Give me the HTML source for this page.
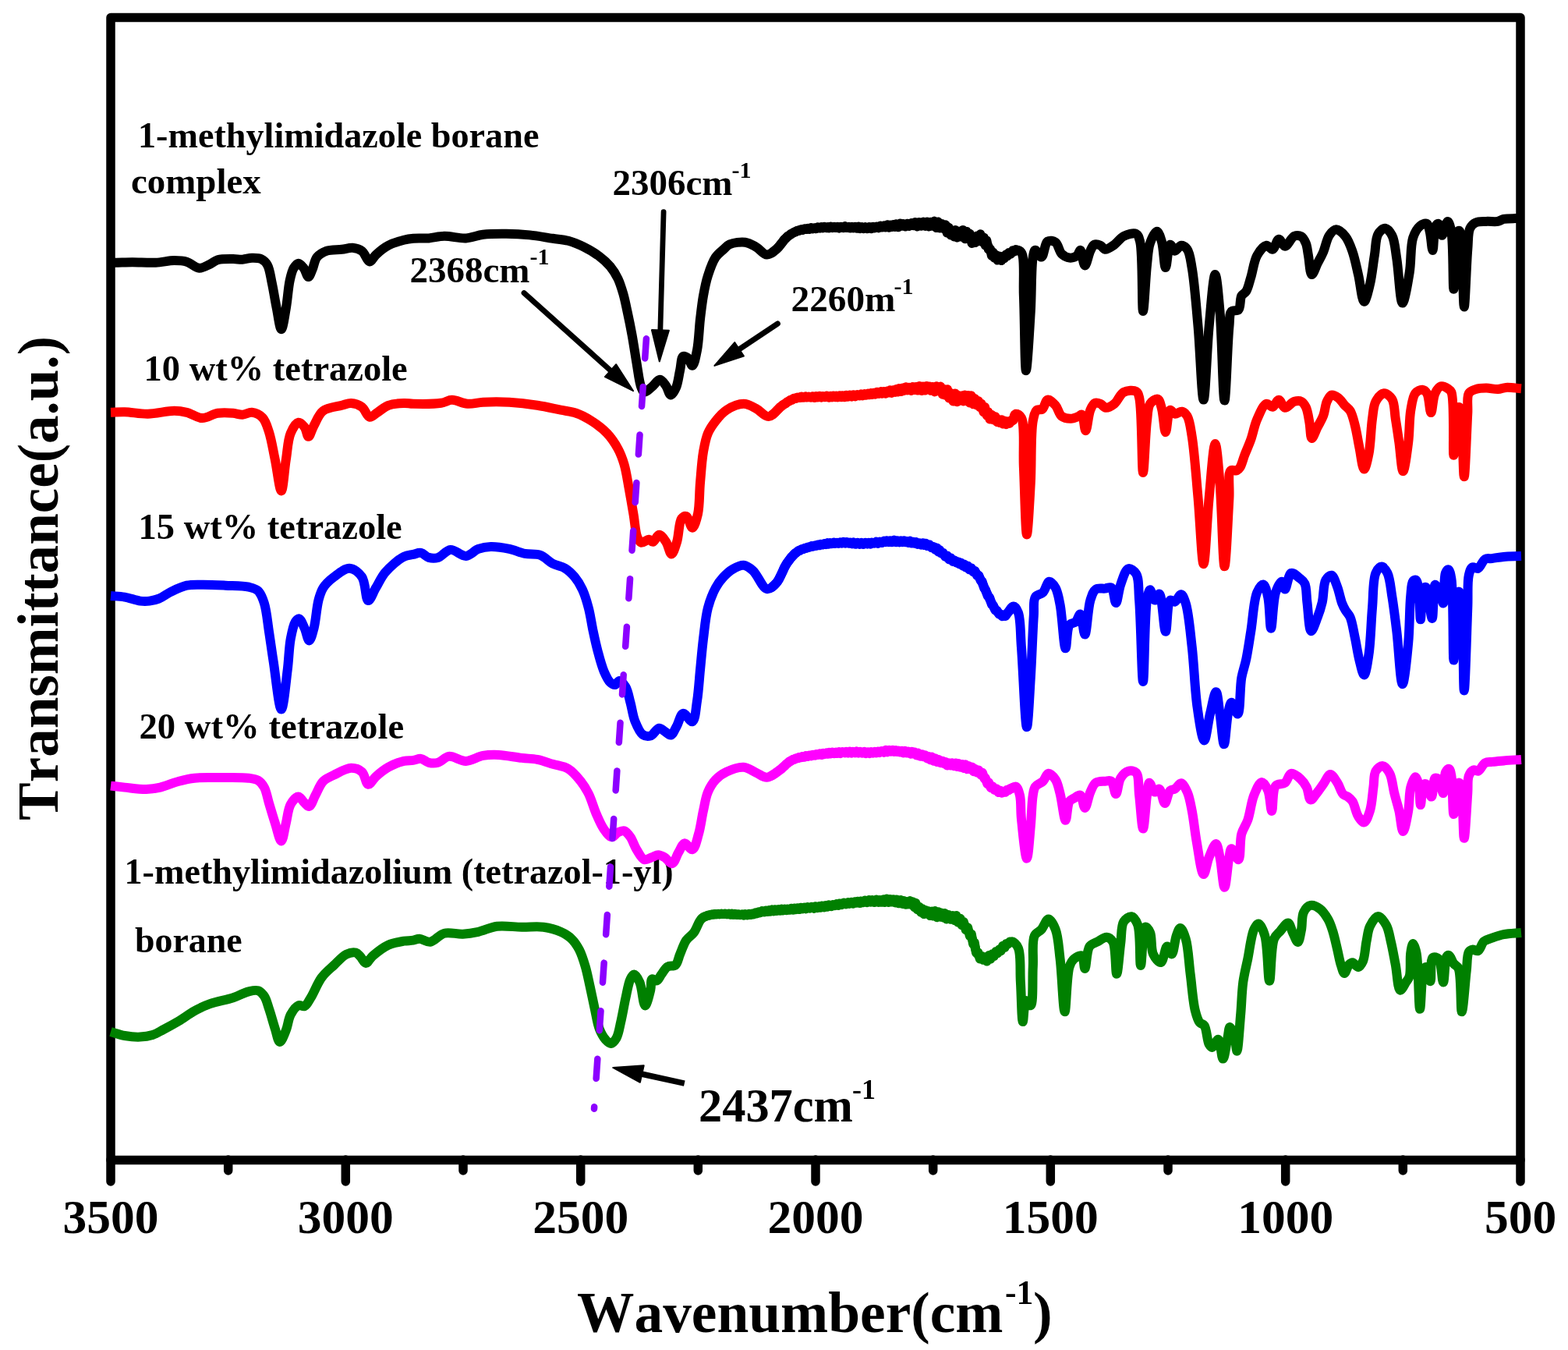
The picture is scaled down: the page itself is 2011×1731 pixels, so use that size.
<!DOCTYPE html>
<html><head><meta charset="utf-8"><title>FTIR spectra</title>
<style>
html,body{margin:0;padding:0;background:#fff;}
svg{display:block;}
text{font-family:'Liberation Serif', 'Times New Roman', serif;font-weight:bold;fill:#000;font-kerning:none;font-feature-settings:'kern' 0;}
</style></head>
<body>
<svg width="2011" height="1731" viewBox="0 0 2011 1731">
<rect x="0" y="0" width="2011" height="1731" fill="#fff"/>
<rect x="142" y="22.5" width="1808" height="1465" fill="none" stroke="#000" stroke-width="11.5" stroke-linejoin="round"/>
<line x1="142.0" y1="1487" x2="142.0" y2="1515" stroke="#000" stroke-width="11.5" stroke-linecap="round"/>
<line x1="292.7" y1="1487" x2="292.7" y2="1501" stroke="#000" stroke-width="11.5" stroke-linecap="round"/>
<line x1="443.3" y1="1487" x2="443.3" y2="1515" stroke="#000" stroke-width="11.5" stroke-linecap="round"/>
<line x1="594.0" y1="1487" x2="594.0" y2="1501" stroke="#000" stroke-width="11.5" stroke-linecap="round"/>
<line x1="744.7" y1="1487" x2="744.7" y2="1515" stroke="#000" stroke-width="11.5" stroke-linecap="round"/>
<line x1="895.3" y1="1487" x2="895.3" y2="1501" stroke="#000" stroke-width="11.5" stroke-linecap="round"/>
<line x1="1046.0" y1="1487" x2="1046.0" y2="1515" stroke="#000" stroke-width="11.5" stroke-linecap="round"/>
<line x1="1196.7" y1="1487" x2="1196.7" y2="1501" stroke="#000" stroke-width="11.5" stroke-linecap="round"/>
<line x1="1347.3" y1="1487" x2="1347.3" y2="1515" stroke="#000" stroke-width="11.5" stroke-linecap="round"/>
<line x1="1498.0" y1="1487" x2="1498.0" y2="1501" stroke="#000" stroke-width="11.5" stroke-linecap="round"/>
<line x1="1648.7" y1="1487" x2="1648.7" y2="1515" stroke="#000" stroke-width="11.5" stroke-linecap="round"/>
<line x1="1799.3" y1="1487" x2="1799.3" y2="1501" stroke="#000" stroke-width="11.5" stroke-linecap="round"/>
<line x1="1950.0" y1="1487" x2="1950.0" y2="1515" stroke="#000" stroke-width="11.5" stroke-linecap="round"/>
<text x="142.0" y="1581" font-size="61.5" text-anchor="middle">3500</text>
<text x="443.3" y="1581" font-size="61.5" text-anchor="middle">3000</text>
<text x="744.7" y="1581" font-size="61.5" text-anchor="middle">2500</text>
<text x="1046.0" y="1581" font-size="61.5" text-anchor="middle">2000</text>
<text x="1347.3" y="1581" font-size="61.5" text-anchor="middle">1500</text>
<text x="1648.7" y="1581" font-size="61.5" text-anchor="middle">1000</text>
<text x="1950.0" y="1581" font-size="61.5" text-anchor="middle">500</text>
<text x="177" y="189" font-size="46.2">1-methylimidazole borane</text>
<text x="168" y="248.4" font-size="46.9">complex</text>
<text x="184.5" y="487.7" font-size="46.5">10 wt% tetrazole</text>
<text x="177.5" y="691.2" font-size="46.5">15 wt% tetrazole</text>
<text x="178.5" y="947" font-size="46.7">20 wt% tetrazole</text>
<text x="159.5" y="1133" font-size="46.2">1-methylimidazolium (tetrazol-1-yl)</text>
<text x="173" y="1221.4" font-size="45.9">borane</text>
<path d="M142.0,336.7 C144.0,336.7 145.4,336.7 148.0,336.7 C153.0,336.7 162.0,336.3 169.8,336.3 C179.0,336.3 190.3,337.1 199.7,336.7 C208.1,336.3 216.4,334.1 223.5,334.1 C229.4,334.1 234.3,334.2 239.5,335.7 C245.0,337.3 250.2,343.4 255.4,343.7 C260.1,344.0 265.1,340.6 269.3,338.7 C272.9,337.1 275.2,334.5 279.2,333.3 C284.6,331.8 293.3,332.1 299.1,332.1 C303.6,332.1 307.0,332.9 311.0,332.7 C315.0,332.5 319.0,330.8 323.0,330.7 C327.0,330.6 331.6,330.5 335.0,332.1 C338.2,333.6 340.8,336.1 342.9,339.7 C346.1,345.2 347.0,355.0 348.9,363.5 C351.0,373.3 352.7,385.2 354.8,395.4 C356.7,404.7 358.8,422.2 360.8,422.2 C362.8,422.2 365.1,405.0 366.8,395.4 C368.8,384.4 369.6,369.1 371.7,359.6 C373.1,353.2 374.4,347.5 376.7,343.7 C378.4,341.0 380.6,337.8 382.7,337.7 C384.9,337.6 387.6,341.2 389.6,343.7 C392.0,346.7 393.7,355.1 395.6,355.1 C397.3,355.1 399.0,349.2 400.6,345.6 C402.6,341.0 403.3,333.7 406.5,329.7 C409.5,326.0 413.8,323.5 418.5,321.8 C424.1,319.8 432.4,320.5 438.4,319.8 C443.5,319.2 447.9,317.4 452.3,317.8 C456.5,318.2 460.7,319.3 464.2,321.8 C468.2,324.7 471.0,335.2 474.2,335.4 C476.9,335.5 478.8,329.7 482.1,326.7 C486.3,322.8 492.1,317.9 498.0,314.8 C504.0,311.6 512.0,309.3 517.9,307.8 C522.4,306.7 525.5,306.2 530.0,305.8 C535.8,305.3 543.3,305.9 549.9,305.4 C556.5,304.9 562.6,302.9 569.8,302.8 C578.3,302.6 588.9,305.9 597.6,305.4 C605.4,305.0 611.6,301.8 619.5,300.8 C628.6,299.7 639.4,299.7 649.3,299.8 C659.3,299.9 669.3,300.4 679.2,301.4 C689.2,302.4 700.1,304.5 709.0,305.8 C716.3,306.9 722.4,307.0 728.9,308.8 C735.6,310.6 742.3,313.5 748.8,316.7 C755.6,320.1 762.9,324.3 768.7,328.7 C774.0,332.7 778.6,336.8 782.6,341.6 C786.6,346.4 789.8,351.7 792.6,357.5 C795.5,363.6 797.5,370.6 799.5,377.4 C801.5,384.5 802.8,391.4 804.5,399.3 C806.5,408.5 808.6,418.7 810.5,429.1 C812.6,440.5 814.4,453.3 816.4,464.9 C818.3,475.9 819.8,490.5 822.4,496.8 C823.6,499.7 824.5,502.4 826.4,502.7 C828.8,503.1 833.1,498.4 836.3,495.8 C839.7,493.1 843.2,486.7 846.3,486.8 C849.1,486.9 851.9,491.7 854.2,494.8 C856.6,498.2 858.0,506.2 860.2,506.4 C862.3,506.6 865.3,500.9 867.1,496.8 C869.6,491.2 870.5,481.8 872.1,474.9 C873.5,468.6 873.5,458.5 876.1,457.0 C877.6,456.1 880.3,457.6 882.1,459.0 C884.5,460.9 886.2,469.0 888.0,468.8 C890.4,468.5 892.4,456.8 894.0,449.0 C896.2,438.1 896.6,421.5 898.0,409.2 C899.3,398.5 900.3,388.9 902.0,379.4 C903.6,370.4 905.2,361.8 907.9,353.5 C910.5,345.3 913.9,335.7 917.9,329.7 C920.9,325.3 924.8,322.6 928.0,319.7 C930.7,317.3 932.4,314.8 935.9,313.3 C940.8,311.2 949.9,309.9 955.8,310.7 C961.0,311.4 965.2,314.2 969.7,316.7 C974.5,319.4 979.1,326.4 983.6,326.6 C987.7,326.8 991.7,322.9 995.6,319.7 C1000.4,315.8 1004.5,307.9 1009.5,303.8 C1013.9,300.2 1017.8,297.7 1023.4,295.8 C1030.5,293.4 1040.3,292.9 1049.3,292.2 C1058.9,291.4 1068.4,291.5 1079.1,291.4 C1091.4,291.3 1107.9,292.3 1118.9,291.8 C1126.7,291.4 1131.3,290.4 1138.8,289.8 C1148.6,289.0 1161.2,287.8 1172.6,287.8 C1184.4,287.8 1199.6,286.7 1208.4,289.8 C1214.5,292.0 1217.2,298.0 1222.3,299.8 C1227.2,301.6 1233.8,299.2 1238.3,300.8 C1242.2,302.2 1244.8,307.3 1248.2,307.7 C1251.4,308.1 1255.2,303.0 1258.1,303.8 C1261.3,304.6 1263.6,310.0 1266.1,313.7 C1268.9,317.8 1270.7,324.6 1274.1,327.6 C1276.9,330.0 1280.8,331.9 1284.0,331.6 C1287.4,331.3 1290.7,327.5 1294.0,325.6 C1297.0,323.9 1300.1,320.9 1302.9,320.8 C1305.3,320.7 1308.1,321.2 1309.9,323.7 C1314.8,330.6 1312.0,358.3 1312.9,379.3 C1314.1,406.9 1314.3,475.2 1315.9,475.2 C1317.4,475.2 1320.3,424.0 1321.8,399.2 C1323.2,375.5 1322.5,341.7 1324.8,329.6 C1325.6,325.1 1326.2,321.0 1327.8,320.7 C1329.6,320.3 1333.3,330.0 1335.7,329.6 C1338.9,329.0 1339.7,311.9 1343.7,309.5 C1346.4,307.9 1350.9,308.8 1353.7,310.7 C1357.3,313.2 1358.2,322.2 1361.6,325.6 C1364.4,328.3 1368.2,330.3 1371.6,330.6 C1374.9,330.9 1379.1,329.5 1381.5,327.6 C1383.6,326.0 1384.2,320.5 1385.5,320.7 C1387.6,320.9 1389.2,340.4 1391.4,340.5 C1393.5,340.6 1396.0,326.6 1398.4,321.7 C1400.0,318.4 1401.1,314.8 1403.4,313.7 C1405.5,312.7 1409.0,313.7 1411.3,314.7 C1413.6,315.7 1414.9,319.4 1417.3,319.7 C1420.5,320.1 1425.4,316.3 1429.2,313.7 C1433.4,310.8 1436.5,305.1 1441.2,302.8 C1445.8,300.5 1453.6,298.1 1457.1,299.8 C1460.0,301.2 1460.7,304.5 1462.1,309.7 C1465.9,324.4 1464.3,399.0 1466.0,399.0 C1467.4,399.0 1469.2,355.7 1471.0,339.6 C1472.3,328.5 1472.3,319.3 1475.0,311.7 C1477.1,305.7 1481.3,296.7 1483.9,296.8 C1486.2,296.9 1488.3,304.2 1489.9,309.7 C1492.4,318.1 1493.0,343.1 1494.9,343.1 C1496.7,343.1 1497.9,314.4 1500.8,313.7 C1502.5,313.3 1504.5,321.5 1506.8,321.7 C1509.2,321.9 1512.1,314.9 1514.8,314.7 C1517.4,314.5 1520.6,316.8 1522.7,319.7 C1526.1,324.4 1526.9,333.3 1528.7,343.5 C1531.9,361.5 1534.2,392.5 1536.6,419.1 C1539.2,448.6 1541.3,512.6 1543.6,512.6 C1545.9,512.6 1547.9,447.7 1550.6,419.1 C1552.9,394.9 1556.0,352.0 1558.5,352.0 C1560.6,352.0 1562.8,380.0 1564.5,399.2 C1567.2,429.0 1568.4,513.6 1570.5,513.6 C1572.4,513.6 1574.3,438.9 1576.4,419.1 C1577.4,410.0 1576.4,402.5 1579.4,399.2 C1581.5,397.0 1586.3,399.3 1588.4,397.2 C1591.4,394.2 1590.0,383.4 1592.3,379.3 C1593.8,376.5 1596.6,376.2 1598.3,373.4 C1600.9,369.2 1602.2,362.2 1604.3,355.5 C1606.8,347.3 1608.2,334.8 1612.2,327.6 C1615.3,322.0 1620.4,315.2 1624.2,314.7 C1627.0,314.3 1629.7,320.3 1632.1,319.7 C1635.2,319.0 1637.3,306.9 1640.1,306.7 C1642.6,306.5 1645.1,315.7 1648.0,315.7 C1651.6,315.8 1655.9,304.5 1660.0,302.8 C1662.9,301.6 1666.6,301.9 1669.0,303.3 C1671.6,304.8 1673.4,308.7 1674.9,312.2 C1676.6,316.4 1676.8,321.5 1677.9,327.1 C1679.3,334.4 1680.0,351.7 1682.4,352.1 C1684.3,352.4 1687.3,342.5 1689.8,337.6 C1692.3,332.7 1695.0,328.2 1697.3,322.7 C1700.0,316.4 1701.4,306.7 1704.8,301.8 C1707.3,298.2 1710.5,294.4 1713.7,294.3 C1717.3,294.2 1722.3,299.2 1725.6,303.3 C1729.6,308.2 1732.0,315.4 1734.6,322.7 C1737.7,331.4 1739.7,342.2 1742.1,352.5 C1744.7,363.5 1746.7,386.6 1749.5,386.8 C1751.8,386.9 1754.9,372.9 1757.0,364.4 C1759.6,353.6 1761.0,338.5 1762.9,327.1 C1764.5,317.4 1764.0,306.1 1767.4,300.3 C1769.6,296.5 1773.5,292.7 1776.4,292.8 C1779.4,292.9 1783.0,297.5 1785.3,301.8 C1788.9,308.5 1789.4,320.0 1791.3,331.6 C1793.9,347.5 1795.6,388.5 1798.7,388.6 C1801.3,388.7 1805.5,363.0 1807.7,349.5 C1810.1,335.2 1808.7,315.5 1812.2,304.8 C1814.4,298.2 1817.5,292.7 1821.1,289.8 C1823.8,287.7 1828.0,285.9 1830.1,286.9 C1832.4,288.0 1832.7,293.1 1833.8,297.3 C1835.4,303.6 1836.3,321.1 1837.5,321.1 C1838.8,321.1 1838.6,294.5 1841.3,289.8 C1842.3,288.0 1843.9,286.6 1845.0,286.9 C1847.0,287.5 1847.9,301.8 1849.5,301.8 C1850.9,301.8 1852.5,293.1 1853.9,289.8 C1854.9,287.5 1855.9,283.8 1856.9,283.9 C1858.4,284.0 1860.2,290.9 1861.4,297.3 C1864.1,311.9 1863.2,370.8 1864.4,370.8 C1865.7,370.8 1864.8,303.4 1868.9,297.3 C1869.8,296.0 1871.0,295.5 1871.8,295.9 C1874.0,297.1 1874.0,309.6 1874.8,319.7 C1876.3,337.5 1876.6,393.5 1877.8,393.5 C1879.1,393.5 1880.7,338.2 1882.3,319.7 C1883.3,308.5 1882.5,298.7 1885.3,292.8 C1887.1,289.1 1889.5,286.9 1892.7,285.4 C1896.3,283.7 1901.6,284.2 1906.2,283.9 C1911.0,283.6 1917.1,284.7 1921.1,283.9 C1924.1,283.3 1925.5,281.6 1928.5,280.9 C1932.6,280.0 1939.4,280.2 1943.5,280.1 C1946.4,280.0 1948.5,280.1 1951.0,280.1" fill="none" stroke="#000000" stroke-width="12.0" stroke-linejoin="round" stroke-linecap="butt"/>
<path d="M990.0,324.2 L992.3,322.4 L994.4,320.7 L996.7,318.6 L998.9,316.4 L1001.5,313.0 L1003.5,310.6 L1006.0,307.1 L1007.7,305.8 L1010.4,302.8 L1012.8,301.5 L1014.4,299.9 L1016.1,299.4 L1018.0,297.9 L1020.1,297.4 L1022.7,295.7 L1025.1,295.7 L1027.5,294.2 L1029.4,294.9 L1032.2,293.2 L1034.7,293.9 L1036.5,292.8 L1038.2,293.8 L1040.3,292.2 L1042.4,293.5 L1045.0,292.2 L1046.8,293.2 L1049.0,291.4 L1051.1,292.5 L1053.4,291.1 L1055.4,292.3 L1057.4,290.8 L1059.9,292.1 L1061.8,291.1 L1063.4,292.4 L1065.3,290.7 L1067.4,292.1 L1069.9,290.9 L1072.2,292.0 L1074.3,290.8 L1076.3,292.5 L1078.8,290.7 L1081.5,292.1 L1083.6,290.3 L1085.9,292.0 L1088.7,290.8 L1090.6,292.6 L1092.6,290.8 L1094.3,292.3 L1096.6,290.9 L1098.9,292.6 L1101.1,290.5 L1103.3,292.9 L1105.9,291.1 L1107.7,293.2 L1110.3,291.1 L1112.1,293.2 L1114.8,291.1 L1117.6,293.2 L1119.9,290.7 L1121.6,292.4 L1124.4,290.5 L1126.8,292.2 L1129.4,289.4 L1131.4,291.6 L1133.8,289.3 L1135.7,291.6 L1138.3,288.2 L1140.3,291.8 L1142.1,288.5 L1144.0,291.0 L1145.7,287.9 L1147.7,290.9 L1149.5,287.3 L1152.2,291.3 L1154.6,286.4 L1156.9,289.8 L1158.5,287.0 L1161.2,290.5 L1163.9,286.7 L1166.3,290.0 L1168.8,286.0 L1171.6,289.3 L1173.8,285.1 L1176.5,290.5 L1179.0,284.9 L1181.7,289.8 L1184.1,284.5 L1186.7,289.9 L1189.3,284.4 L1191.6,290.5 L1193.6,284.7 L1196.0,289.8 L1198.3,283.6 L1201.0,292.1 L1203.0,284.4 L1205.3,292.4 L1207.9,287.0 L1210.4,293.3 L1212.8,288.3 L1214.6,298.5 L1216.8,291.6 L1219.5,301.6 L1221.2,295.8 L1223.6,303.4 L1225.4,295.0 L1227.8,304.5 L1230.4,296.7 L1232.8,303.5 L1235.0,295.0 L1237.7,306.2 L1239.7,296.9 L1241.7,306.1 L1243.9,299.7 L1246.5,312.0 L1249.2,304.2 L1251.1,310.9 L1253.0,302.6 L1255.1,309.0 L1257.3,300.3 L1259.9,310.2 L1262.0,304.6 L1263.7,314.5 L1265.3,308.3 L1267.6,319.2 L1270.1,319.6 L1271.9,327.9 L1273.5,323.3 L1275.4,330.7 L1277.1,326.7 L1279.2,333.6 L1281.6,328.5 L1284.3,334.1 L1286.2,328.9 L1288.0,331.2 L1290.2,326.3 L1292.0,328.3 L1294.0,323.9 L1296.2,325.7 L1298.7,321.4 L1301.3,322.3 L1303.0,320.1 L1305.5,321.0" fill="none" stroke="#000000" stroke-width="12.0" stroke-linejoin="round" stroke-linecap="round"/>
<path d="M142.0,528.8 C148.0,528.6 153.2,528.0 159.9,528.2 C168.6,528.4 179.5,531.0 189.7,530.8 C200.6,530.6 214.3,526.8 223.5,526.8 C229.8,526.8 234.0,527.5 239.5,528.8 C245.8,530.3 252.7,535.9 259.3,536.1 C265.9,536.3 272.5,530.8 279.2,529.8 C285.8,528.8 293.3,529.3 299.1,529.8 C303.6,530.2 307.1,532.0 311.1,531.8 C315.1,531.6 319.0,528.4 323.0,528.8 C327.5,529.3 333.3,532.0 336.9,535.7 C340.9,539.9 342.5,546.5 344.9,553.7 C348.1,563.5 350.2,577.2 352.8,589.5 C355.5,602.4 358.5,629.5 360.8,629.4 C363.1,629.3 364.7,602.2 366.8,589.5 C368.7,577.7 369.1,564.1 372.7,555.6 C375.2,549.6 379.3,542.2 382.7,541.7 C385.3,541.3 388.5,545.0 390.6,547.7 C393.0,550.8 393.7,559.7 395.6,559.8 C397.7,559.9 399.8,550.7 402.6,545.7 C405.9,539.8 408.8,531.1 414.5,526.8 C420.5,522.2 431.8,521.6 438.4,519.8 C443.0,518.6 446.2,516.7 450.3,516.9 C454.8,517.1 460.3,519.0 464.2,521.8 C468.3,524.8 470.5,534.1 474.2,534.8 C477.3,535.4 480.5,531.0 484.1,528.8 C488.4,526.1 492.7,521.8 498.0,519.8 C503.8,517.6 512.1,517.1 517.9,516.9 C522.4,516.7 524.9,517.7 530.0,517.8 C538.8,518.0 556.7,518.2 565.8,516.8 C571.6,515.9 574.6,512.9 579.7,512.8 C585.7,512.7 592.9,517.3 599.6,517.8 C606.2,518.3 612.0,516.2 619.5,515.8 C629.3,515.3 641.9,515.2 653.3,515.8 C665.1,516.5 677.7,518.0 689.1,519.8 C699.6,521.4 710.0,523.9 719.0,525.7 C726.3,527.2 732.4,527.5 738.9,529.7 C745.7,532.0 752.3,535.6 758.7,539.7 C765.6,544.1 772.9,549.5 778.6,555.6 C784.2,561.5 788.9,568.6 792.6,575.5 C796.1,581.9 798.3,588.0 800.5,595.4 C803.1,604.2 804.6,614.9 806.5,625.2 C808.5,636.1 810.5,648.1 812.4,659.0 C814.2,669.3 814.8,682.6 817.4,688.9 C818.8,692.2 820.1,695.1 822.4,695.8 C824.9,696.5 829.6,691.6 832.3,691.8 C834.3,692.0 835.6,695.1 837.3,694.8 C839.8,694.4 842.5,685.9 845.3,685.8 C848.1,685.7 851.7,691.1 854.2,694.8 C857.1,699.1 858.9,710.4 861.2,710.4 C863.5,710.4 866.1,701.0 868.1,694.8 C870.7,686.6 870.6,669.6 874.1,665.0 C875.8,662.8 878.2,661.4 880.1,662.0 C883.1,662.9 885.6,676.8 888.0,676.7 C890.6,676.5 893.3,666.2 895.0,659.0 C897.4,648.5 896.8,632.5 898.0,619.2 C899.2,606.0 900.0,591.0 902.0,579.5 C903.6,570.5 904.9,562.6 907.9,555.6 C910.5,549.5 914.0,544.6 917.9,539.7 C921.9,534.6 926.2,529.3 931.9,525.7 C938.0,521.8 947.1,517.8 953.8,517.8 C959.5,517.8 964.5,521.2 969.7,523.8 C975.1,526.5 980.2,534.3 985.6,534.0 C991.5,533.7 997.5,523.8 1003.5,519.8 C1008.8,516.2 1013.1,512.7 1019.5,510.8 C1027.7,508.4 1038.6,509.3 1049.3,508.8 C1061.6,508.2 1075.8,508.6 1089.1,507.8 C1102.4,507.0 1115.3,505.5 1128.9,503.9 C1143.1,502.2 1158.9,498.4 1172.6,497.9 C1184.6,497.4 1197.2,497.2 1206.4,499.9 C1213.6,502.0 1217.8,507.8 1224.3,509.8 C1231.0,511.9 1240.2,509.7 1246.2,511.8 C1251.0,513.5 1254.3,516.5 1258.1,519.8 C1262.4,523.6 1265.2,530.1 1270.1,533.7 C1275.1,537.4 1282.8,541.1 1288.0,541.7 C1291.7,542.1 1295.5,541.5 1298.0,539.7 C1300.5,537.9 1300.8,531.2 1302.9,530.7 C1304.8,530.3 1308.1,532.4 1309.9,535.7 C1314.8,544.7 1311.8,576.5 1312.9,599.3 C1314.1,625.8 1315.3,685.4 1316.9,685.4 C1318.3,685.4 1320.5,642.3 1321.8,619.2 C1323.2,593.9 1321.8,555.2 1324.8,539.7 C1326.1,533.0 1327.1,527.9 1329.8,525.7 C1331.6,524.2 1334.7,526.2 1336.7,524.8 C1339.6,522.9 1340.7,513.2 1343.7,512.6 C1346.5,512.0 1350.8,516.6 1353.7,519.8 C1357.0,523.4 1358.0,530.9 1361.6,533.7 C1364.8,536.1 1369.7,536.8 1373.5,536.7 C1377.0,536.6 1381.0,534.7 1383.5,533.7 C1385.2,533.0 1386.3,531.2 1387.5,531.7 C1390.0,532.9 1390.7,552.2 1392.4,552.2 C1394.3,552.2 1395.7,532.0 1398.4,525.7 C1400.1,521.7 1401.9,517.9 1404.4,516.8 C1406.4,515.9 1409.1,516.9 1411.3,517.8 C1413.7,518.8 1415.6,522.5 1418.3,522.8 C1421.5,523.1 1425.8,520.5 1429.2,517.8 C1433.5,514.4 1436.3,505.5 1441.2,502.9 C1445.7,500.6 1453.8,500.0 1457.1,501.9 C1459.6,503.3 1460.0,505.5 1461.1,509.8 C1464.9,523.9 1464.2,606.0 1466.0,606.0 C1467.5,606.0 1468.9,555.8 1471.0,539.7 C1472.2,530.4 1471.8,522.5 1475.0,517.8 C1477.3,514.4 1482.4,510.9 1484.9,511.7 C1487.5,512.5 1488.5,518.8 1489.9,523.8 C1492.1,531.5 1493.1,554.2 1494.9,554.2 C1496.7,554.2 1497.6,526.8 1500.8,525.7 C1502.5,525.1 1504.5,530.3 1506.8,530.7 C1509.4,531.2 1513.1,527.2 1515.8,527.7 C1518.4,528.2 1520.8,530.6 1522.7,533.7 C1525.9,539.0 1526.9,548.5 1528.7,559.6 C1531.9,578.8 1534.1,612.2 1536.6,639.1 C1539.1,666.8 1541.3,723.3 1543.6,723.3 C1545.9,723.3 1548.0,665.9 1550.6,639.1 C1553.0,614.6 1556.0,569.0 1558.5,569.0 C1560.6,569.0 1562.8,599.3 1564.5,619.2 C1567.0,648.2 1568.4,726.3 1570.5,726.3 C1572.4,726.3 1575.0,661.8 1576.4,639.1 C1577.3,624.6 1574.4,607.1 1578.4,603.3 C1580.3,601.5 1584.3,604.2 1586.4,603.3 C1588.1,602.6 1589.1,601.3 1590.4,599.3 C1592.6,595.9 1594.1,589.0 1596.3,583.4 C1598.7,577.1 1601.8,570.6 1604.3,563.5 C1607.1,555.5 1608.7,545.5 1612.2,537.7 C1615.5,530.4 1620.0,519.0 1624.2,517.8 C1626.8,517.1 1629.6,522.3 1632.1,521.8 C1635.0,521.3 1637.5,512.7 1640.1,512.8 C1642.8,512.9 1644.8,522.3 1648.0,522.8 C1651.4,523.3 1656.1,516.0 1660.0,514.8 C1663.1,513.9 1666.5,513.6 1669.0,514.8 C1671.5,516.0 1673.3,518.9 1674.9,522.2 C1677.2,527.0 1678.2,535.0 1679.4,541.6 C1680.7,548.3 1680.5,561.7 1682.4,562.0 C1684.1,562.3 1687.3,552.4 1689.8,547.6 C1692.3,542.7 1695.3,538.0 1697.3,532.7 C1699.4,527.1 1699.6,519.5 1701.8,514.8 C1703.4,511.4 1705.2,507.3 1707.7,506.6 C1710.2,505.9 1714.0,508.4 1716.7,510.3 C1719.6,512.4 1721.7,516.4 1724.2,519.2 C1726.6,521.9 1729.5,523.4 1731.6,526.7 C1734.3,531.2 1735.8,537.8 1737.6,544.6 C1739.9,553.2 1741.5,564.7 1743.5,574.4 C1745.4,583.7 1747.3,601.5 1749.5,601.6 C1751.4,601.7 1753.9,589.9 1755.5,581.9 C1757.9,570.1 1758.2,549.4 1760.0,537.1 C1761.3,528.3 1761.3,520.5 1764.4,514.8 C1766.9,510.2 1771.3,504.6 1774.9,504.3 C1778.3,504.0 1782.8,507.9 1785.3,511.8 C1788.8,517.4 1788.4,528.3 1789.8,537.1 C1791.4,546.6 1792.8,556.5 1794.3,567.0 C1796.0,578.7 1797.5,604.3 1799.5,604.3 C1801.5,604.3 1804.6,579.7 1806.2,567.0 C1807.9,553.9 1807.3,538.1 1809.2,526.7 C1810.7,518.1 1811.7,508.6 1815.2,504.3 C1817.5,501.5 1821.5,499.6 1824.1,499.8 C1826.4,500.0 1828.5,501.7 1830.1,504.3 C1833.1,509.0 1833.6,529.1 1835.3,529.1 C1837.0,529.1 1837.6,510.3 1840.5,504.3 C1842.5,500.2 1845.1,496.1 1848.0,495.3 C1850.6,494.6 1854.6,496.8 1856.9,498.3 C1858.8,499.5 1860.2,500.0 1861.4,502.8 C1865.8,512.9 1863.0,583.8 1864.4,583.8 C1865.6,583.8 1865.2,529.2 1868.9,523.7 C1869.8,522.4 1871.0,521.8 1871.8,522.2 C1873.9,523.3 1874.0,535.1 1874.8,544.6 C1876.3,560.9 1876.6,611.3 1877.8,611.3 C1879.1,611.3 1881.2,549.2 1882.3,529.7 C1882.9,518.8 1880.8,509.3 1883.8,504.3 C1885.7,501.1 1889.3,500.2 1892.7,499.1 C1896.6,497.8 1901.6,497.6 1906.2,497.6 C1911.0,497.6 1916.6,499.3 1921.1,499.1 C1924.9,498.9 1927.5,497.2 1931.5,496.9 C1937.0,496.5 1944.5,497.8 1951.0,498.3" fill="none" stroke="#ff0000" stroke-width="12.0" stroke-linejoin="round" stroke-linecap="butt"/>
<path d="M990.0,532.2 L991.8,530.9 L994.6,528.3 L996.3,526.4 L998.3,524.5 L1000.2,522.3 L1002.2,521.0 L1004.9,518.6 L1007.6,517.3 L1009.3,515.5 L1011.6,514.7 L1013.4,512.9 L1015.7,512.7 L1018.2,510.7 L1020.5,511.0 L1022.9,509.6 L1025.6,510.0 L1028.1,508.6 L1030.5,509.6 L1033.1,508.4 L1034.9,509.5 L1037.2,508.6 L1039.9,509.7 L1042.1,508.3 L1044.5,509.9 L1046.5,508.2 L1048.8,509.5 L1051.1,507.9 L1053.2,509.5 L1055.4,508.0 L1058.2,509.3 L1060.3,507.7 L1063.1,509.6 L1065.3,507.7 L1067.0,509.5 L1068.8,507.5 L1070.8,509.1 L1072.8,507.7 L1074.5,509.2 L1077.0,507.3 L1078.9,509.3 L1080.5,507.3 L1083.1,509.3 L1085.3,506.8 L1087.5,508.8 L1089.8,506.4 L1092.3,508.5 L1094.8,506.3 L1096.8,508.4 L1099.4,506.0 L1102.1,507.4 L1104.3,505.5 L1106.3,507.2 L1108.7,505.2 L1110.7,506.6 L1113.4,504.7 L1115.2,506.3 L1117.1,503.9 L1118.9,506.0 L1120.6,503.8 L1122.4,505.7 L1124.9,502.8 L1127.5,504.9 L1129.6,502.1 L1131.2,504.7 L1133.4,502.0 L1135.9,504.7 L1138.1,501.4 L1139.9,503.6 L1141.6,500.2 L1143.4,503.9 L1145.8,500.2 L1148.0,502.9 L1149.6,498.9 L1151.3,502.6 L1152.9,498.1 L1155.7,502.1 L1157.5,497.4 L1159.3,500.9 L1161.9,496.3 L1163.6,500.5 L1165.9,496.8 L1168.5,500.9 L1170.8,496.0 L1173.4,500.1 L1175.2,495.9 L1177.0,500.6 L1179.2,495.0 L1181.8,500.9 L1183.6,495.4 L1186.3,500.6 L1188.3,494.9 L1190.2,499.6 L1191.8,495.4 L1193.7,500.7 L1196.5,495.9 L1198.7,502.4 L1201.0,495.3 L1203.6,501.4 L1206.3,495.6 L1208.9,505.7 L1210.6,499.0 L1212.4,506.7 L1215.1,499.2 L1217.2,510.5 L1219.7,504.1 L1222.5,514.6 L1225.0,504.5 L1227.5,515.2 L1229.5,507.1 L1231.4,513.6 L1234.1,507.2 L1235.7,514.5 L1237.5,506.6 L1239.4,514.1 L1241.6,506.9 L1243.6,516.5 L1245.6,507.3 L1248.3,518.3 L1250.3,511.0 L1253.1,519.7 L1254.9,514.1 L1256.8,522.1 L1258.6,517.6 L1261.4,528.3 L1263.1,522.0 L1265.7,532.8 L1267.3,528.1 L1269.4,537.5 L1271.7,531.8 L1274.1,538.3 L1276.5,534.2 L1278.9,541.2 L1280.8,538.1 L1282.5,542.1 L1284.7,538.3 L1286.5,543.5 L1288.9,539.7 L1290.5,544.2 L1292.8,540.3 L1294.7,542.9 L1297.4,539.0 L1299.5,538.8 L1301.3,531.9 L1304.0,531.1" fill="none" stroke="#ff0000" stroke-width="12.0" stroke-linejoin="round" stroke-linecap="round"/>
<path d="M142.0,764.0 C148.0,764.5 153.8,764.6 159.9,765.6 C166.4,766.7 174.0,769.9 179.8,770.6 C184.2,771.1 187.8,771.1 191.7,770.6 C195.7,770.1 199.5,769.3 203.7,767.6 C208.8,765.6 213.9,761.3 219.6,758.6 C225.8,755.6 232.8,752.2 239.5,750.7 C246.0,749.3 252.0,749.8 259.3,749.7 C268.2,749.6 279.2,750.2 289.2,750.7 C299.1,751.2 311.4,750.9 319.0,752.7 C324.0,753.9 327.8,754.6 331.0,757.6 C334.7,761.1 336.8,766.9 338.9,773.5 C341.9,782.9 343.0,797.0 344.9,809.3 C346.9,822.2 348.5,834.5 350.8,849.1 C353.6,867.2 357.7,909.6 360.8,909.6 C363.6,909.6 366.7,875.0 368.7,859.1 C370.5,845.1 370.6,830.5 372.7,819.3 C374.3,810.8 376.0,801.6 378.7,797.4 C380.2,795.2 382.1,793.1 383.7,793.4 C386.1,793.9 388.5,801.0 390.6,805.4 C392.9,810.3 394.6,821.5 396.6,821.5 C398.6,821.5 400.9,811.9 402.6,805.4 C405.1,795.9 406.0,779.0 408.5,769.6 C410.2,763.1 411.4,758.5 414.5,753.7 C417.8,748.5 423.0,743.7 428.4,739.7 C434.2,735.4 442.1,728.5 448.3,728.8 C454.0,729.1 460.3,734.2 464.2,739.7 C469.2,746.8 468.7,769.6 472.2,770.1 C475.0,770.5 478.6,759.4 482.1,753.7 C485.9,747.4 488.8,740.0 494.1,733.8 C500.3,726.6 510.9,717.4 517.9,713.9 C522.3,711.7 526.2,711.8 530.0,710.9 C533.5,710.1 536.7,708.3 539.9,708.9 C543.3,709.5 546.3,713.9 549.9,714.9 C553.6,715.9 557.7,716.1 561.8,714.9 C566.9,713.4 572.0,705.4 577.7,704.9 C583.8,704.3 591.4,713.3 597.6,712.9 C603.3,712.5 608.0,705.9 613.5,703.9 C618.7,702.0 623.6,701.1 629.5,700.9 C636.6,700.7 645.8,702.3 653.3,703.9 C660.3,705.4 666.5,708.6 673.2,709.9 C679.8,711.2 687.1,709.7 693.1,711.9 C699.0,714.1 703.5,719.9 709.0,722.8 C714.1,725.5 720.2,725.9 724.9,728.8 C729.5,731.6 733.3,735.4 736.9,739.7 C740.7,744.3 744.0,749.6 746.8,755.6 C750.1,762.6 752.6,771.0 754.8,779.5 C757.3,788.8 758.6,799.7 760.7,809.3 C762.6,818.3 764.4,826.6 766.7,835.2 C769.0,843.9 771.6,853.9 774.7,861.1 C777.1,866.6 779.7,872.2 782.6,875.0 C784.5,876.8 786.7,878.2 788.6,878.0 C790.7,877.8 792.4,872.9 794.5,873.0 C797.0,873.1 800.3,877.4 802.5,881.0 C805.4,885.9 806.6,893.9 808.5,900.8 C810.6,908.4 811.5,917.6 814.4,924.7 C817.0,931.1 820.3,939.2 824.4,942.0 C827.3,944.0 831.1,944.4 834.3,943.5 C838.2,942.4 841.9,934.1 845.3,933.7 C847.8,933.4 849.8,936.2 852.2,937.6 C854.8,939.1 857.8,943.1 860.2,942.6 C863.2,942.0 865.6,935.0 868.1,930.7 C870.9,925.9 872.6,915.5 876.1,914.8 C879.4,914.2 885.1,926.2 888.0,925.3 C891.8,924.1 892.4,908.7 894.0,898.9 C895.9,887.0 896.7,872.4 898.0,859.1 C899.3,845.8 900.4,832.5 902.0,819.3 C903.7,806.0 904.8,791.2 907.9,779.5 C910.5,769.8 914.0,760.7 917.9,753.6 C920.9,748.0 924.2,743.8 928.0,739.7 C931.6,735.8 935.5,732.2 939.9,729.7 C944.2,727.3 949.4,724.4 953.8,724.8 C958.0,725.2 961.7,728.2 965.7,731.7 C971.6,736.9 977.7,754.0 983.6,755.1 C987.7,755.8 991.9,751.5 995.6,747.6 C1000.9,742.0 1004.4,729.0 1009.5,721.8 C1013.8,715.8 1017.4,710.6 1023.4,706.9 C1030.3,702.6 1040.3,700.7 1049.3,698.9 C1058.8,697.0 1069.1,696.2 1079.1,695.9 C1089.0,695.6 1098.3,697.1 1109.0,696.9 C1121.3,696.6 1136.4,693.7 1148.7,693.9 C1159.4,694.0 1169.7,695.2 1178.6,696.9 C1186.0,698.3 1192.1,699.4 1198.5,702.5 C1205.4,705.8 1211.6,712.9 1218.4,716.8 C1224.8,720.5 1232.2,721.9 1238.3,725.5 C1244.1,728.9 1249.8,732.3 1254.2,737.7 C1259.3,743.9 1262.1,753.9 1266.1,761.6 C1270.0,769.1 1273.5,778.6 1278.0,783.4 C1281.1,786.7 1284.7,790.2 1288.0,789.8 C1292.0,789.3 1296.7,777.3 1299.9,777.5 C1302.3,777.6 1304.3,781.4 1305.9,785.4 C1309.2,793.9 1308.5,811.5 1309.9,829.2 C1312.1,856.3 1314.7,932.3 1316.9,932.3 C1318.6,932.3 1320.4,891.3 1321.8,869.0 C1323.4,844.0 1324.5,808.3 1325.8,789.5 C1326.5,779.2 1324.7,770.6 1327.8,765.6 C1329.9,762.2 1334.9,762.5 1337.7,759.6 C1341.0,756.2 1342.8,746.1 1345.7,745.7 C1348.2,745.4 1351.6,749.9 1353.7,753.6 C1356.7,758.8 1357.8,766.4 1359.6,775.5 C1362.4,789.8 1364.3,831.3 1366.6,831.3 C1368.3,831.3 1367.9,806.5 1371.6,801.4 C1373.6,798.6 1377.3,799.5 1379.5,797.4 C1382.0,795.0 1383.8,787.2 1385.5,787.5 C1388.1,787.9 1389.5,813.7 1391.4,813.6 C1393.8,813.5 1395.1,780.0 1398.4,769.6 C1400.4,763.4 1401.9,758.0 1405.4,755.6 C1408.5,753.5 1413.7,755.0 1417.3,754.6 C1420.2,754.3 1423.2,752.2 1425.3,753.6 C1428.7,755.8 1429.3,773.1 1431.2,773.1 C1433.3,773.1 1434.5,757.1 1437.2,749.7 C1439.8,742.5 1443.0,730.3 1447.1,729.2 C1450.0,728.4 1454.7,731.9 1457.1,735.7 C1461.1,742.2 1459.9,755.2 1461.1,769.6 C1463.2,794.8 1464.4,873.9 1466.0,873.9 C1467.7,873.9 1467.9,787.8 1471.0,769.6 C1472.1,763.0 1473.4,756.4 1475.0,756.3 C1476.7,756.2 1478.8,769.4 1481.0,769.6 C1482.8,769.8 1485.2,761.2 1486.9,761.6 C1490.7,762.5 1492.5,809.7 1494.9,809.7 C1497.1,809.7 1496.6,772.2 1500.8,769.6 C1502.5,768.6 1504.8,772.1 1506.8,771.6 C1509.5,770.8 1512.5,761.9 1514.8,762.2 C1517.1,762.5 1519.0,768.1 1520.7,773.5 C1524.4,784.8 1526.4,809.0 1528.7,829.2 C1531.5,853.1 1532.4,885.7 1535.7,907.7 C1538.1,923.9 1541.6,949.4 1544.4,949.4 C1547.0,949.4 1549.3,925.8 1552.0,915.0 C1554.4,905.2 1557.5,887.1 1559.6,887.2 C1561.7,887.3 1562.9,904.9 1564.5,915.0 C1566.4,927.0 1568.1,954.3 1569.9,954.3 C1571.6,954.3 1572.9,924.8 1575.0,915.0 C1576.3,909.0 1577.4,901.0 1579.4,900.8 C1581.5,900.6 1585.4,915.9 1587.4,915.5 C1590.8,914.8 1590.0,881.9 1592.3,869.0 C1594.0,859.7 1596.5,853.9 1598.3,845.1 C1600.5,834.4 1602.2,822.2 1604.3,809.3 C1606.8,794.1 1607.8,769.6 1612.2,759.6 C1614.4,754.5 1618.0,749.1 1620.2,749.4 C1622.8,749.8 1624.7,758.9 1626.2,765.6 C1628.6,775.9 1628.5,805.7 1630.1,805.7 C1631.8,805.7 1632.5,770.3 1636.1,759.6 C1638.2,753.3 1641.9,745.6 1644.0,745.7 C1645.7,745.8 1646.5,755.6 1648.0,755.6 C1650.2,755.6 1652.2,736.1 1656.0,734.8 C1658.7,733.8 1663.0,738.4 1666.0,740.7 C1668.8,742.9 1671.7,744.6 1673.4,748.2 C1676.0,753.6 1675.2,763.3 1676.4,772.1 C1677.9,783.1 1678.7,808.8 1681.6,809.2 C1683.7,809.5 1687.4,797.5 1689.8,791.4 C1692.2,785.2 1694.1,779.2 1695.8,772.1 C1697.8,763.6 1697.0,749.4 1700.3,743.7 C1702.2,740.4 1705.5,737.2 1707.7,737.7 C1710.6,738.3 1713.0,747.2 1715.2,752.7 C1717.6,759.0 1719.1,768.1 1721.2,773.5 C1722.6,777.2 1723.9,779.6 1725.6,782.5 C1727.4,785.5 1729.9,787.5 1731.6,791.4 C1734.3,797.5 1735.7,808.0 1737.6,816.8 C1739.7,826.3 1741.2,837.9 1743.5,846.6 C1745.3,853.6 1747.6,865.5 1749.5,865.4 C1751.7,865.3 1753.9,849.8 1755.5,839.2 C1757.9,823.4 1758.4,798.0 1760.0,779.5 C1761.4,763.5 1760.6,743.4 1764.4,734.8 C1766.3,730.5 1769.4,726.6 1771.9,726.6 C1774.4,726.6 1777.4,730.8 1779.4,734.8 C1782.7,741.4 1783.5,753.6 1785.3,764.6 C1787.5,778.0 1789.3,792.9 1791.3,809.4 C1793.8,829.7 1796.0,877.2 1798.7,877.2 C1801.1,877.2 1804.5,842.5 1806.2,824.3 C1808.0,805.0 1807.7,779.0 1809.2,764.6 C1810.0,756.3 1810.0,748.0 1812.2,745.2 C1813.2,743.9 1814.9,743.2 1815.9,743.7 C1817.8,744.7 1818.7,751.5 1819.6,757.1 C1821.1,766.3 1820.9,794.3 1821.9,794.3 C1822.9,794.3 1822.6,758.3 1825.6,754.2 C1826.5,753.0 1827.8,752.5 1828.6,752.9 C1830.2,753.7 1830.6,759.8 1831.6,764.6 C1833.2,772.0 1835.4,793.0 1836.8,792.9 C1838.5,792.8 1838.0,750.4 1840.5,749.7 C1841.4,749.5 1842.5,752.4 1843.5,753.7 C1844.5,754.9 1845.6,755.4 1846.5,757.1 C1848.3,760.4 1849.8,773.6 1851.0,773.5 C1852.7,773.3 1851.3,741.2 1853.9,734.8 C1854.9,732.3 1856.6,730.1 1857.7,730.3 C1859.3,730.6 1860.4,736.2 1861.4,742.2 C1864.3,759.7 1863.2,846.6 1864.4,846.6 C1865.5,846.6 1865.1,776.1 1868.1,764.6 C1869.0,761.3 1870.2,758.5 1871.1,758.6 C1872.7,758.8 1873.8,769.8 1874.8,779.5 C1877.0,801.2 1876.6,885.4 1877.8,885.4 C1879.1,885.4 1881.2,806.7 1882.3,779.5 C1883.0,762.4 1881.7,746.8 1883.8,737.7 C1884.9,732.9 1886.0,728.5 1888.3,727.3 C1890.2,726.3 1893.4,729.7 1895.7,728.8 C1899.0,727.6 1901.2,718.8 1904.7,716.9 C1907.4,715.4 1910.3,716.5 1913.6,716.1 C1917.9,715.6 1923.0,714.4 1928.5,713.9 C1935.2,713.3 1943.5,713.4 1951.0,713.1" fill="none" stroke="#0000ff" stroke-width="12.0" stroke-linejoin="round" stroke-linecap="butt"/>
<path d="M990.0,752.9 L992.4,750.9 L994.3,749.0 L997.0,745.8 L998.8,743.2 L1001.1,738.4 L1003.9,732.6 L1006.0,727.6 L1008.4,723.7 L1010.4,720.4 L1012.0,718.6 L1014.5,714.9 L1017.1,712.4 L1019.4,709.6 L1021.1,708.7 L1023.9,706.3 L1025.8,706.0 L1028.3,704.2 L1030.2,704.0 L1032.2,702.7 L1034.4,702.7 L1036.5,701.4 L1038.2,701.6 L1040.8,700.1 L1043.1,700.5 L1044.9,699.4 L1046.9,699.8 L1048.8,698.6 L1050.6,699.3 L1052.8,697.7 L1054.8,698.5 L1057.4,697.0 L1059.0,698.0 L1061.1,696.3 L1062.8,697.8 L1064.5,696.1 L1066.6,697.2 L1069.3,695.6 L1071.0,697.0 L1073.4,695.7 L1075.1,696.8 L1077.6,695.3 L1079.7,696.6 L1081.6,694.9 L1084.3,696.6 L1086.0,695.2 L1088.5,696.7 L1090.3,695.5 L1092.7,697.2 L1094.6,695.5 L1097.2,697.7 L1099.8,695.9 L1102.3,697.9 L1105.0,695.9 L1107.3,697.8 L1109.9,695.9 L1112.4,697.5 L1114.1,695.9 L1116.4,697.5 L1118.2,695.6 L1121.0,696.7 L1123.7,694.7 L1126.0,696.9 L1128.4,694.7 L1131.1,695.9 L1133.8,693.5 L1135.6,695.2 L1137.2,693.2 L1139.7,695.0 L1141.5,693.2 L1144.0,695.2 L1146.7,692.5 L1149.2,695.3 L1150.8,693.3 L1153.4,695.2 L1155.4,693.3 L1157.4,695.2 L1159.6,693.3 L1161.5,695.3 L1163.3,693.9 L1165.0,696.0 L1166.8,693.6 L1169.0,696.6 L1171.4,694.7 L1173.0,696.8 L1175.0,695.1 L1176.9,697.7 L1179.5,696.3 L1181.7,698.7 L1183.6,696.3 L1185.5,699.1 L1187.3,696.8 L1189.3,700.1 L1192.1,698.4 L1194.8,702.2 L1197.4,701.1 L1199.3,704.7 L1201.5,702.4 L1203.5,707.4 L1205.2,705.2 L1207.1,709.4 L1209.7,709.1 L1212.3,713.8 L1214.8,712.5 L1217.1,717.2 L1219.5,715.5 L1222.1,720.0 L1224.2,718.5 L1226.7,721.6 L1228.6,720.3 L1230.3,723.2 L1232.5,721.6 L1234.6,725.4 L1236.3,723.4 L1238.6,727.6 L1241.3,725.7 L1243.0,730.2 L1245.8,728.3 L1248.0,733.1 L1250.3,731.9 L1253.1,737.9 L1255.3,737.9 L1257.6,744.3 L1259.5,745.3 L1262.2,754.1 L1264.1,756.3 L1266.7,764.0 L1269.3,766.6 L1272.0,775.2 L1273.8,776.2 L1276.4,782.3 L1278.7,782.9 L1281.4,787.6 L1283.2,787.6 L1285.2,790.2 L1287.1,788.8 L1289.5,789.9 L1292.1,785.9 L1294.5,783.4 L1296.4,780.2 L1299.0,777.9" fill="none" stroke="#0000ff" stroke-width="12.0" stroke-linejoin="round" stroke-linecap="round"/>
<path d="M142.0,1007.6 C148.0,1008.3 153.3,1008.9 159.9,1009.6 C168.1,1010.4 179.5,1012.2 187.7,1012.0 C194.3,1011.8 199.3,1011.1 205.6,1009.6 C213.1,1007.9 221.8,1003.7 229.5,1001.7 C236.4,999.9 242.1,998.5 249.4,997.7 C258.3,996.7 268.5,997.1 279.2,997.1 C291.5,997.1 309.6,996.5 319.0,997.7 C324.2,998.4 327.7,998.7 331.0,1000.7 C334.3,1002.7 336.7,1005.7 338.9,1009.6 C341.7,1014.7 342.8,1022.4 344.9,1029.5 C347.3,1037.6 350.1,1047.0 352.8,1055.4 C355.4,1063.3 358.5,1078.5 360.8,1078.4 C363.1,1078.3 364.8,1063.1 366.8,1055.4 C368.8,1047.5 369.3,1037.4 372.7,1031.5 C375.2,1027.0 379.6,1021.6 382.7,1021.6 C385.5,1021.6 388.1,1027.3 390.6,1029.5 C392.7,1031.3 394.7,1034.4 396.6,1034.0 C399.4,1033.4 401.7,1024.7 404.5,1019.6 C407.6,1014.0 410.2,1006.1 414.5,1001.7 C418.3,997.8 423.1,996.3 428.4,993.7 C434.8,990.6 443.8,985.0 450.3,984.8 C455.4,984.7 460.6,986.5 464.2,989.7 C468.2,993.2 469.0,1005.3 472.2,1005.8 C475.1,1006.3 478.3,999.1 482.1,995.7 C486.6,991.7 492.2,987.1 498.0,983.8 C504.1,980.4 512.0,977.2 517.9,975.8 C522.3,974.8 526.2,975.4 530.0,974.9 C533.5,974.4 536.7,972.5 539.9,972.9 C543.3,973.3 546.3,977.0 549.9,977.8 C553.6,978.7 557.8,978.9 561.8,977.8 C566.4,976.6 570.4,970.6 575.7,969.9 C582.0,969.1 590.3,976.1 597.6,975.9 C604.9,975.7 612.3,970.2 619.5,968.9 C626.2,967.7 632.1,967.6 639.4,967.9 C648.3,968.3 660.3,970.9 669.2,971.9 C676.5,972.8 682.5,972.6 689.1,973.9 C695.8,975.2 702.4,977.8 709.0,979.8 C715.6,981.8 723.0,982.3 728.9,985.8 C735.0,989.5 740.4,996.1 744.8,1001.7 C748.9,1006.8 751.7,1011.5 754.8,1017.6 C758.5,1025.0 761.2,1035.5 764.7,1043.5 C767.9,1050.7 770.9,1058.1 774.7,1063.4 C777.7,1067.6 781.4,1073.1 784.6,1073.3 C787.3,1073.5 789.8,1068.7 792.6,1067.4 C795.1,1066.2 798.0,1064.7 800.5,1065.4 C803.4,1066.2 806.1,1070.0 808.5,1073.3 C811.5,1077.5 813.3,1084.3 816.4,1089.2 C819.3,1093.9 822.6,1101.0 826.4,1102.2 C829.4,1103.2 833.2,1100.3 836.3,1099.2 C839.1,1098.2 841.6,1096.2 844.3,1096.2 C846.9,1096.2 849.5,1097.7 852.2,1099.2 C855.5,1101.1 859.3,1107.7 862.2,1107.1 C865.4,1106.5 867.4,1097.6 870.1,1093.2 C872.7,1089.0 875.0,1081.8 878.1,1081.3 C881.0,1080.9 885.2,1089.9 888.0,1089.2 C891.6,1088.3 893.8,1076.7 896.0,1069.3 C898.6,1060.5 899.9,1048.9 902.0,1039.5 C903.9,1031.1 904.9,1022.6 907.9,1015.6 C910.5,1009.5 913.8,1004.1 917.9,999.7 C921.8,995.5 926.4,992.3 931.9,989.7 C938.2,986.7 947.2,983.3 953.8,983.8 C959.6,984.2 964.6,988.5 969.7,990.7 C974.5,992.8 978.9,996.9 983.6,996.7 C988.8,996.4 994.4,991.2 999.6,987.7 C1005.1,984.0 1009.3,977.9 1015.5,974.8 C1022.3,971.4 1030.3,970.4 1039.3,968.8 C1050.8,966.8 1065.8,965.5 1079.1,964.9 C1092.4,964.3 1107.6,965.4 1118.9,964.9 C1127.3,964.5 1132.8,962.9 1140.8,962.9 C1150.4,962.9 1162.6,963.9 1172.6,965.9 C1181.8,967.7 1190.4,971.4 1198.5,973.8 C1205.6,975.9 1211.7,978.3 1218.4,979.8 C1225.0,981.3 1231.8,980.9 1238.3,982.8 C1245.0,984.8 1252.7,987.4 1258.1,991.7 C1263.2,995.8 1265.3,1003.6 1270.1,1007.6 C1274.7,1011.4 1281.3,1015.4 1286.0,1015.6 C1289.7,1015.8 1293.0,1012.9 1296.0,1011.6 C1298.5,1010.5 1301.0,1007.9 1302.9,1008.6 C1305.3,1009.5 1306.7,1014.9 1307.9,1019.6 C1309.8,1027.0 1308.8,1038.1 1309.9,1049.4 C1311.4,1064.2 1314.8,1100.7 1316.9,1100.7 C1318.8,1100.7 1320.5,1073.0 1321.8,1059.3 C1323.1,1045.9 1323.2,1028.7 1324.8,1019.6 C1325.6,1014.7 1325.7,1011.6 1327.8,1008.6 C1329.9,1005.6 1334.9,1004.5 1337.7,1001.7 C1340.5,998.9 1342.0,992.1 1344.7,991.8 C1347.4,991.5 1351.3,996.1 1353.7,999.7 C1356.7,1004.2 1357.7,1010.6 1359.6,1017.6 C1362.1,1027.1 1364.5,1051.7 1366.6,1051.7 C1368.4,1051.7 1368.6,1031.9 1371.6,1027.5 C1373.2,1025.1 1375.3,1024.8 1377.5,1023.5 C1379.9,1022.1 1383.4,1018.7 1385.5,1019.6 C1388.5,1020.8 1389.4,1035.9 1391.4,1035.9 C1393.7,1035.9 1395.7,1021.4 1398.4,1015.6 C1400.5,1011.0 1402.1,1006.0 1405.4,1003.7 C1408.5,1001.6 1413.7,1002.0 1417.3,1001.7 C1420.2,1001.5 1423.2,1000.2 1425.3,1001.7 C1428.4,1003.9 1429.3,1018.2 1431.2,1018.1 C1433.3,1018.0 1434.0,1002.8 1437.2,997.7 C1439.7,993.6 1443.5,989.7 1447.1,988.7 C1450.2,987.8 1454.7,988.2 1457.1,990.7 C1461.1,995.0 1459.8,1009.0 1461.1,1019.6 C1462.7,1032.5 1464.4,1062.6 1466.0,1062.6 C1467.7,1062.6 1469.4,1030.4 1471.0,1019.6 C1472.0,1013.0 1472.2,1004.0 1474.0,1003.7 C1475.7,1003.4 1478.4,1015.0 1481.0,1015.6 C1482.8,1016.0 1485.1,1011.0 1486.9,1011.6 C1489.8,1012.5 1491.5,1029.9 1493.9,1029.9 C1496.2,1029.9 1497.8,1016.3 1500.8,1013.6 C1502.6,1012.0 1504.8,1012.8 1506.8,1011.6 C1509.4,1010.1 1512.3,1004.0 1514.8,1004.3 C1517.6,1004.6 1520.6,1010.9 1522.7,1015.6 C1525.6,1021.9 1526.9,1030.5 1528.7,1039.5 C1531.0,1051.0 1532.3,1065.8 1534.7,1079.2 C1537.2,1093.0 1540.5,1120.8 1543.6,1121.0 C1545.9,1121.1 1547.8,1105.8 1550.6,1099.1 C1553.2,1092.9 1557.2,1081.8 1559.5,1082.0 C1561.7,1082.2 1563.0,1092.2 1564.5,1099.1 C1566.8,1109.3 1568.5,1137.7 1570.5,1137.7 C1572.5,1137.7 1574.5,1108.0 1576.4,1099.1 C1577.4,1094.3 1577.7,1088.5 1579.4,1088.2 C1581.4,1087.9 1586.3,1102.7 1588.4,1102.2 C1591.4,1101.5 1589.8,1078.5 1592.3,1069.3 C1594.2,1062.3 1597.9,1058.3 1600.3,1051.4 C1603.4,1042.4 1604.7,1028.3 1608.3,1019.6 C1611.1,1012.9 1614.9,1003.1 1618.2,1002.9 C1620.9,1002.8 1624.2,1008.9 1626.2,1013.6 C1629.1,1020.2 1629.5,1039.9 1631.1,1039.9 C1632.8,1039.9 1631.5,1013.0 1636.1,1007.6 C1638.9,1004.2 1644.7,1006.2 1648.0,1003.7 C1651.5,1001.1 1652.6,992.6 1656.0,991.8 C1659.3,991.0 1664.6,995.7 1667.9,998.7 C1671.2,1001.7 1673.8,1005.4 1675.9,1009.6 C1678.2,1014.2 1678.4,1024.9 1680.9,1025.5 C1683.2,1026.0 1687.0,1019.0 1689.8,1015.6 C1692.5,1012.2 1694.7,1008.8 1697.3,1005.2 C1700.1,1001.3 1703.2,993.2 1706.2,993.1 C1709.1,993.0 1712.5,999.7 1715.2,1003.7 C1718.1,1008.1 1719.8,1015.7 1722.7,1018.6 C1724.5,1020.4 1726.7,1020.2 1728.6,1021.6 C1730.7,1023.1 1732.8,1024.8 1734.6,1027.6 C1737.5,1032.0 1739.0,1042.3 1742.1,1047.0 C1744.3,1050.3 1747.2,1054.8 1749.5,1054.4 C1752.3,1053.9 1755.1,1045.5 1757.0,1039.5 C1759.6,1031.4 1760.1,1018.8 1761.4,1009.7 C1762.5,1002.1 1761.6,993.5 1764.4,988.8 C1766.4,985.4 1770.5,981.8 1773.4,982.1 C1776.5,982.4 1780.0,987.4 1782.3,991.8 C1785.6,998.0 1786.2,1008.9 1788.3,1017.1 C1790.2,1024.8 1792.5,1031.7 1794.3,1039.5 C1796.3,1047.9 1797.5,1065.9 1799.5,1066.0 C1801.5,1066.1 1804.6,1048.7 1806.2,1039.5 C1807.9,1029.9 1807.1,1017.6 1809.2,1009.7 C1810.7,1004.2 1813.4,996.2 1815.2,996.2 C1816.8,996.2 1818.5,1002.3 1819.6,1006.7 C1821.2,1013.2 1820.9,1032.1 1821.9,1032.1 C1822.9,1032.1 1823.2,1010.0 1825.6,1006.7 C1826.5,1005.5 1827.7,1004.9 1828.6,1005.2 C1829.9,1005.7 1830.4,1010.1 1831.6,1012.7 C1832.9,1015.6 1834.7,1021.8 1836.0,1021.6 C1838.0,1021.3 1837.7,999.4 1840.5,997.7 C1841.7,997.0 1843.7,997.9 1845.0,999.2 C1847.7,1001.9 1849.5,1017.3 1851.0,1017.1 C1852.7,1016.9 1851.5,995.3 1853.9,990.3 C1855.1,987.9 1857.2,985.5 1858.4,985.8 C1859.9,986.1 1860.6,990.5 1861.4,994.8 C1863.3,1004.6 1863.0,1044.0 1864.4,1044.0 C1865.6,1044.0 1866.3,1012.1 1868.9,1006.7 C1869.7,1004.9 1871.0,1003.5 1871.8,1003.7 C1873.3,1004.1 1874.0,1011.0 1874.8,1017.1 C1876.5,1029.6 1876.6,1074.8 1877.8,1074.8 C1879.1,1074.8 1881.2,1031.8 1882.3,1017.1 C1883.0,1007.9 1881.8,1000.1 1883.8,994.8 C1885.1,991.4 1887.4,988.1 1889.7,987.3 C1891.5,986.7 1893.7,989.4 1895.7,988.8 C1898.7,987.8 1901.3,980.2 1904.7,978.3 C1907.4,976.8 1910.2,977.3 1913.6,976.9 C1917.9,976.3 1923.0,975.9 1928.5,975.4 C1935.2,974.8 1943.5,974.4 1951.0,973.9" fill="none" stroke="#ff00ff" stroke-width="12.0" stroke-linejoin="round" stroke-linecap="butt"/>
<path d="M990.0,994.4 L992.3,992.9 L994.1,991.8 L995.7,990.5 L997.3,989.4 L999.5,987.6 L1002.0,986.0 L1004.0,983.9 L1006.0,982.3 L1008.6,979.5 L1010.4,978.4 L1012.1,976.6 L1013.8,976.1 L1016.6,974.1 L1018.6,973.8 L1021.3,972.2 L1023.3,972.3 L1024.9,971.0 L1027.5,971.3 L1029.1,970.0 L1031.6,970.7 L1033.6,969.1 L1036.0,970.0 L1038.2,968.5 L1040.4,969.4 L1042.8,967.7 L1045.4,968.7 L1047.0,967.1 L1048.9,967.8 L1051.4,966.3 L1053.7,967.9 L1055.7,966.0 L1057.4,967.1 L1060.0,965.4 L1061.7,966.8 L1063.3,965.1 L1065.1,966.4 L1067.5,964.6 L1069.8,966.1 L1072.2,964.6 L1073.8,965.9 L1076.2,964.2 L1078.1,966.0 L1080.6,964.1 L1083.4,965.4 L1085.1,963.9 L1087.7,965.6 L1090.0,963.8 L1091.9,965.5 L1094.0,963.8 L1096.7,965.4 L1098.6,963.6 L1101.0,965.5 L1103.1,963.9 L1105.8,965.6 L1108.5,963.9 L1110.5,966.0 L1113.1,964.3 L1115.5,966.0 L1117.2,964.2 L1119.3,965.6 L1122.0,963.9 L1123.9,965.6 L1126.1,963.4 L1128.1,965.0 L1130.8,963.0 L1133.5,964.7 L1135.9,961.8 L1138.0,964.4 L1140.5,961.7 L1142.6,963.8 L1145.0,961.7 L1146.6,963.9 L1148.9,962.3 L1150.6,964.1 L1152.3,962.5 L1154.3,964.6 L1156.7,962.7 L1158.4,965.4 L1160.8,962.7 L1163.2,965.5 L1165.5,963.6 L1167.9,966.7 L1169.5,963.7 L1171.3,966.5 L1173.0,964.5 L1175.6,968.5 L1177.4,965.6 L1180.1,969.7 L1182.7,967.3 L1184.6,970.3 L1186.6,968.3 L1189.1,972.5 L1190.9,970.0 L1193.1,974.3 L1195.2,970.6 L1197.7,975.8 L1199.9,972.6 L1202.0,977.1 L1203.9,974.1 L1206.5,978.2 L1208.9,975.7 L1210.6,979.1 L1212.7,977.1 L1214.6,981.4 L1216.7,978.2 L1219.3,981.6 L1221.1,978.2 L1223.5,982.3 L1226.0,978.4 L1228.0,983.1 L1229.6,979.1 L1231.5,983.7 L1234.0,980.1 L1236.4,985.0 L1238.2,980.3 L1240.4,986.2 L1242.1,982.1 L1243.9,986.3 L1246.6,983.4 L1248.6,989.2 L1250.2,985.7 L1252.8,990.5 L1255.4,987.6 L1258.1,993.6 L1260.0,990.7 L1262.2,997.8 L1263.8,997.7 L1266.3,1005.2 L1268.0,1003.2 L1270.6,1009.9 L1272.9,1008.1 L1275.3,1012.9 L1278.0,1011.3 L1280.4,1016.0 L1283.2,1013.7 L1284.9,1016.8 L1287.6,1014.6 L1289.5,1015.8 L1291.4,1012.9 L1293.7,1013.3 L1295.9,1011.1 L1297.5,1011.0 L1299.1,1009.7" fill="none" stroke="#ff00ff" stroke-width="12.0" stroke-linejoin="round" stroke-linecap="round"/>
<path d="M142.0,1323.0 C148.0,1324.7 153.7,1326.9 159.9,1328.0 C166.3,1329.1 173.6,1329.9 179.8,1329.6 C185.4,1329.4 190.7,1328.6 195.7,1327.0 C200.6,1325.4 204.6,1322.7 209.6,1320.1 C215.7,1316.9 222.9,1313.0 229.5,1309.1 C236.2,1305.1 242.6,1299.9 249.4,1296.2 C255.9,1292.6 261.9,1289.8 269.3,1287.2 C278.1,1284.1 290.2,1282.2 299.1,1279.3 C306.5,1276.8 313.1,1272.7 319.0,1271.3 C323.4,1270.3 327.6,1269.2 331.0,1270.3 C334.2,1271.4 336.7,1274.2 338.9,1277.3 C341.7,1281.3 342.9,1287.2 344.9,1293.2 C347.5,1300.7 350.3,1311.4 352.8,1319.1 C354.9,1325.3 356.4,1335.7 358.8,1335.9 C361.1,1336.1 364.6,1326.5 366.8,1321.1 C369.3,1315.1 369.7,1306.8 372.7,1301.2 C375.3,1296.4 379.2,1290.6 382.7,1289.2 C385.2,1288.2 388.2,1291.2 390.6,1290.2 C393.7,1288.9 395.7,1283.8 398.6,1279.3 C402.8,1272.6 407.1,1260.7 412.5,1253.4 C417.2,1247.0 423.0,1242.5 428.4,1237.5 C433.6,1232.6 439.0,1226.1 444.3,1223.6 C448.3,1221.7 453.2,1220.7 456.3,1221.6 C458.8,1222.3 460.2,1224.6 462.2,1226.6 C464.5,1229.0 466.7,1234.9 469.2,1235.0 C471.9,1235.1 474.3,1228.8 478.1,1225.6 C483.2,1221.2 491.1,1214.9 498.0,1211.7 C504.4,1208.8 512.1,1207.7 517.9,1206.7 C522.4,1206.0 526.4,1206.3 530.0,1205.7 C533.0,1205.2 535.0,1203.6 538.0,1203.7 C542.0,1203.8 547.1,1208.4 551.9,1207.7 C557.7,1206.9 563.1,1198.4 569.8,1196.7 C576.9,1194.8 586.0,1198.1 593.6,1197.7 C600.5,1197.3 606.6,1196.3 613.5,1194.8 C621.2,1193.1 628.8,1188.9 637.4,1187.8 C647.2,1186.6 658.9,1188.6 669.2,1188.8 C678.8,1189.0 688.4,1187.6 697.1,1188.8 C704.9,1189.9 712.7,1192.0 719.0,1194.8 C724.4,1197.2 729.0,1199.9 732.9,1203.7 C736.9,1207.5 740.0,1212.2 742.8,1217.6 C746.1,1223.9 748.5,1231.8 750.8,1239.5 C753.2,1247.7 754.8,1256.6 756.8,1265.4 C758.8,1274.5 760.7,1284.1 762.7,1293.2 C764.7,1302.0 765.9,1312.0 768.7,1319.1 C770.9,1324.6 773.7,1329.7 776.6,1333.0 C778.8,1335.4 781.3,1338.2 783.6,1338.0 C786.0,1337.8 788.7,1334.3 790.6,1331.0 C793.5,1326.0 794.6,1317.0 796.5,1309.1 C798.6,1300.0 800.4,1288.7 802.5,1279.3 C804.4,1270.9 805.9,1260.5 808.5,1255.4 C809.9,1252.5 811.7,1249.4 813.4,1249.5 C815.6,1249.6 818.4,1255.0 820.4,1259.4 C823.6,1266.5 824.8,1289.3 827.4,1289.4 C829.5,1289.5 832.8,1275.4 834.3,1269.3 C835.5,1264.3 834.2,1256.7 836.3,1255.4 C837.7,1254.6 840.5,1258.0 842.3,1257.4 C844.6,1256.7 846.1,1252.3 848.2,1249.5 C850.6,1246.3 853.0,1241.5 856.2,1239.5 C859.1,1237.7 863.6,1239.6 866.2,1237.5 C869.3,1235.0 870.0,1228.5 872.1,1223.6 C874.5,1218.0 876.8,1210.6 880.1,1205.7 C882.9,1201.6 886.9,1199.8 890.0,1195.7 C893.7,1190.8 895.7,1181.6 900.0,1177.8 C903.4,1174.8 907.4,1173.9 911.9,1172.9 C917.2,1171.7 923.2,1172.0 930.0,1171.9 C938.7,1171.8 950.9,1173.5 959.8,1172.8 C967.1,1172.2 971.9,1169.9 979.7,1168.8 C990.7,1167.3 1006.2,1166.7 1019.5,1165.5 C1032.7,1164.4 1046.0,1163.3 1059.2,1161.9 C1072.5,1160.5 1086.7,1158.1 1099.0,1156.9 C1109.7,1155.9 1120.8,1155.2 1128.9,1154.9 C1134.4,1154.7 1138.0,1154.6 1142.8,1154.9 C1147.9,1155.2 1153.6,1156.0 1158.7,1156.9 C1163.5,1157.7 1168.5,1158.0 1172.6,1159.9 C1176.4,1161.7 1178.6,1165.8 1182.6,1167.8 C1187.1,1170.0 1193.8,1170.7 1198.5,1171.8 C1202.2,1172.6 1205.1,1173.1 1208.4,1173.8 C1211.7,1174.5 1215.0,1174.9 1218.4,1175.8 C1222.2,1176.8 1226.9,1177.7 1230.3,1179.8 C1233.5,1181.8 1235.8,1184.2 1238.3,1187.7 C1241.8,1192.5 1245.5,1200.7 1248.2,1207.0 C1250.7,1212.8 1251.0,1220.2 1254.2,1224.0 C1256.7,1227.0 1260.6,1229.4 1264.1,1229.5 C1267.9,1229.6 1272.2,1226.0 1276.0,1223.5 C1280.1,1220.8 1284.1,1216.4 1288.0,1213.6 C1291.4,1211.2 1294.9,1207.2 1297.9,1207.6 C1300.9,1208.0 1304.0,1211.3 1305.9,1215.6 C1309.7,1224.0 1307.9,1244.2 1308.9,1259.3 C1309.9,1275.6 1310.3,1310.0 1311.8,1310.1 C1312.9,1310.2 1313.1,1284.1 1315.9,1283.2 C1317.4,1282.7 1320.3,1289.8 1321.8,1289.2 C1325.5,1287.8 1323.9,1255.1 1324.8,1239.5 C1325.6,1225.5 1323.1,1207.5 1326.8,1199.7 C1328.8,1195.4 1332.9,1194.9 1335.7,1191.7 C1338.9,1188.0 1341.7,1178.6 1344.7,1178.6 C1347.7,1178.6 1351.4,1185.9 1353.7,1191.7 C1357.3,1200.8 1357.8,1215.0 1359.6,1229.5 C1362.0,1248.8 1363.5,1297.3 1365.6,1297.3 C1367.5,1297.3 1367.9,1250.6 1371.6,1239.5 C1373.2,1234.5 1374.8,1231.8 1377.5,1229.5 C1380.1,1227.2 1385.2,1224.3 1387.5,1225.5 C1390.4,1227.0 1390.0,1241.9 1391.4,1241.9 C1393.2,1241.9 1393.4,1219.2 1397.4,1213.6 C1399.9,1210.1 1403.9,1209.5 1407.4,1207.6 C1411.2,1205.5 1415.8,1201.4 1419.3,1201.7 C1422.3,1202.0 1425.2,1204.1 1427.2,1207.6 C1431.4,1214.8 1430.5,1248.8 1432.2,1248.8 C1433.8,1248.8 1435.6,1221.5 1437.2,1209.6 C1438.6,1199.5 1437.6,1187.5 1441.2,1181.8 C1443.5,1178.1 1448.2,1174.7 1451.1,1175.2 C1454.2,1175.7 1457.1,1180.4 1459.1,1185.7 C1463.1,1196.2 1461.3,1237.9 1463.0,1237.9 C1464.6,1237.9 1465.2,1189.6 1469.0,1188.5 C1470.7,1188.0 1473.5,1192.2 1475.0,1195.7 C1477.7,1201.7 1475.8,1216.8 1479.0,1223.5 C1481.3,1228.3 1486.1,1234.5 1488.9,1234.0 C1492.3,1233.3 1494.2,1213.8 1496.9,1213.6 C1498.8,1213.4 1501.1,1223.7 1502.8,1223.4 C1505.3,1223.0 1506.5,1205.8 1508.8,1199.7 C1510.3,1195.6 1512.0,1189.9 1513.8,1189.9 C1515.9,1189.9 1518.8,1197.6 1520.7,1203.7 C1524.0,1214.3 1524.7,1234.2 1526.7,1249.4 C1528.7,1264.7 1529.9,1284.0 1532.7,1295.2 C1534.4,1302.0 1536.0,1307.8 1538.6,1311.1 C1540.3,1313.2 1542.9,1312.7 1544.6,1315.0 C1547.7,1319.4 1548.1,1334.4 1550.6,1338.9 C1551.8,1341.0 1553.0,1343.0 1554.5,1342.9 C1556.7,1342.8 1560.4,1332.4 1562.5,1332.9 C1565.5,1333.6 1566.5,1357.6 1568.5,1357.6 C1570.5,1357.6 1572.8,1338.5 1574.4,1331.0 C1575.6,1325.6 1575.9,1317.2 1577.4,1317.0 C1578.9,1316.8 1581.9,1324.4 1583.4,1329.0 C1585.1,1334.4 1585.4,1347.7 1586.4,1347.7 C1588.0,1347.7 1589.9,1314.5 1591.3,1299.1 C1592.5,1285.2 1592.6,1271.6 1594.3,1259.3 C1595.8,1248.6 1598.1,1240.0 1600.3,1229.5 C1602.7,1217.6 1604.7,1199.1 1608.3,1191.7 C1610.1,1188.1 1612.2,1184.3 1614.2,1184.5 C1616.9,1184.8 1620.1,1192.7 1622.2,1199.7 C1626.1,1212.6 1626.1,1257.7 1628.1,1257.7 C1630.1,1257.7 1629.7,1214.2 1634.1,1203.7 C1636.2,1198.6 1639.2,1197.0 1642.1,1193.7 C1645.1,1190.2 1649.3,1183.1 1652.0,1183.5 C1654.6,1183.9 1655.9,1191.9 1658.0,1196.0 C1660.1,1200.1 1662.7,1208.2 1664.5,1208.0 C1666.5,1207.8 1667.8,1198.0 1669.0,1192.2 C1670.4,1185.4 1669.2,1175.3 1671.9,1169.8 C1673.9,1165.7 1677.4,1161.6 1680.9,1160.9 C1684.4,1160.2 1689.3,1162.8 1692.8,1165.4 C1696.9,1168.4 1700.5,1174.0 1703.3,1178.8 C1706.0,1183.5 1707.4,1188.1 1709.2,1193.7 C1711.4,1200.7 1713.4,1210.0 1715.2,1217.6 C1716.8,1224.4 1718.0,1231.5 1719.7,1237.0 C1721.1,1241.2 1722.5,1247.9 1724.2,1248.0 C1725.9,1248.1 1727.9,1239.3 1730.1,1237.0 C1731.5,1235.5 1732.9,1234.2 1734.6,1234.3 C1736.8,1234.4 1739.9,1240.3 1742.1,1240.0 C1744.3,1239.7 1746.4,1236.0 1748.0,1232.5 C1750.6,1226.7 1750.9,1215.0 1752.5,1207.1 C1753.9,1200.2 1754.3,1193.2 1757.0,1187.7 C1759.5,1182.7 1763.9,1175.2 1767.4,1175.1 C1770.8,1175.0 1775.2,1181.5 1777.9,1186.2 C1781.1,1191.8 1782.0,1199.5 1783.8,1207.1 C1786.0,1216.1 1787.8,1226.8 1789.8,1237.0 C1791.8,1247.6 1792.6,1268.9 1795.8,1269.6 C1797.8,1270.1 1801.1,1262.6 1803.2,1259.4 C1805.0,1256.7 1806.6,1255.4 1807.7,1251.9 C1809.7,1245.4 1808.1,1229.8 1809.2,1222.1 C1809.9,1217.2 1811.0,1210.2 1812.2,1210.1 C1813.4,1210.0 1815.4,1216.3 1816.6,1222.1 C1819.5,1235.9 1819.4,1293.8 1821.1,1293.8 C1822.5,1293.8 1822.9,1251.8 1825.6,1244.4 C1826.5,1242.0 1827.6,1239.9 1828.6,1240.0 C1830.5,1240.3 1833.1,1258.4 1834.5,1258.2 C1836.3,1258.0 1833.8,1230.4 1837.5,1227.8 C1839.3,1226.5 1843.0,1227.4 1845.0,1229.5 C1849.0,1233.6 1849.3,1259.5 1851.0,1259.4 C1852.8,1259.3 1852.7,1230.3 1855.4,1226.5 C1856.3,1225.3 1857.4,1224.7 1858.4,1225.0 C1860.3,1225.6 1862.2,1232.6 1864.4,1235.5 C1866.2,1237.9 1868.8,1238.0 1870.4,1241.4 C1874.5,1250.3 1873.0,1297.3 1874.8,1297.3 C1876.5,1297.3 1879.1,1258.6 1880.8,1244.4 C1881.9,1234.9 1881.3,1224.6 1883.8,1220.6 C1885.0,1218.7 1886.5,1217.9 1888.3,1217.6 C1890.4,1217.2 1893.5,1220.0 1895.7,1219.1 C1898.7,1217.8 1900.0,1209.9 1903.2,1207.1 C1906.1,1204.6 1909.8,1204.1 1913.6,1202.7 C1918.1,1201.1 1923.0,1199.3 1928.5,1198.2 C1935.2,1196.9 1943.5,1196.7 1951.0,1196.0" fill="none" stroke="#008000" stroke-width="12.0" stroke-linejoin="round" stroke-linecap="butt"/>
<path d="M900.0,1177.8 L902.7,1175.8 L905.2,1174.8 L907.7,1173.8 L909.7,1173.5 L912.5,1172.6 L914.8,1172.6 L916.8,1171.9 L919.0,1172.3 L921.3,1171.7 L923.0,1172.2 L925.4,1171.6 L928.0,1172.1 L929.9,1171.5 L932.4,1172.2 L934.9,1171.6 L936.9,1172.6 L938.6,1171.6 L940.6,1172.8 L942.4,1171.9 L945.0,1173.0 L947.3,1172.2 L949.3,1173.3 L951.7,1172.3 L953.9,1173.7 L955.6,1172.1 L958.3,1173.5 L960.8,1171.9 L962.8,1173.0 L964.5,1171.5 L966.6,1172.4 L968.8,1170.4 L970.6,1171.3 L972.8,1169.4 L974.6,1170.4 L977.4,1168.2 L979.9,1169.5 L982.0,1167.6 L984.3,1169.1 L985.9,1167.1 L987.7,1168.6 L990.0,1166.6 L992.1,1168.4 L993.9,1166.3 L995.8,1168.1 L998.2,1166.1 L1000.4,1167.8 L1002.0,1165.6 L1004.3,1167.5 L1006.2,1165.7 L1008.5,1167.1 L1010.3,1165.6 L1012.9,1166.7 L1015.1,1164.8 L1017.0,1166.8 L1019.2,1164.4 L1021.0,1166.2 L1023.1,1164.5 L1025.2,1165.9 L1027.2,1163.7 L1029.2,1165.3 L1031.7,1163.6 L1033.4,1165.4 L1035.8,1163.1 L1038.4,1164.7 L1041.0,1162.8 L1043.7,1164.7 L1045.9,1162.3 L1048.4,1164.1 L1050.6,1162.1 L1052.6,1163.7 L1054.3,1161.5 L1057.0,1163.3 L1058.9,1161.2 L1061.2,1162.8 L1063.1,1160.5 L1065.9,1162.2 L1068.1,1160.2 L1070.3,1161.2 L1073.1,1159.1 L1075.4,1161.0 L1077.0,1158.4 L1079.5,1160.0 L1082.2,1157.6 L1085.0,1159.3 L1087.7,1156.9 L1089.6,1158.7 L1092.0,1157.0 L1094.2,1158.7 L1096.3,1156.2 L1098.4,1157.7 L1100.1,1155.7 L1102.7,1158.1 L1104.4,1155.4 L1107.0,1157.2 L1109.5,1154.4 L1112.1,1157.2 L1114.6,1154.0 L1116.4,1156.7 L1118.8,1154.0 L1121.4,1157.1 L1123.8,1153.6 L1126.3,1156.9 L1128.0,1154.0 L1130.6,1156.8 L1133.0,1153.3 L1134.9,1156.9 L1137.3,1152.5 L1139.7,1156.9 L1141.6,1152.9 L1143.3,1156.4 L1145.5,1153.3 L1148.2,1157.4 L1150.0,1153.4 L1152.5,1158.3 L1155.2,1154.0 L1157.4,1158.9 L1159.1,1155.1 L1161.2,1159.7 L1162.9,1155.9 L1164.7,1159.5 L1166.9,1155.1 L1168.9,1160.1 L1170.5,1156.3 L1172.6,1163.1 L1174.5,1157.8 L1176.5,1166.1 L1179.2,1163.0 L1180.9,1169.6 L1183.2,1165.2 L1185.0,1172.1 L1187.0,1167.1 L1188.7,1171.5 L1190.8,1168.3 L1192.8,1174.0 L1195.3,1168.5 L1197.2,1174.6 L1199.2,1168.0 L1201.7,1176.2 L1203.7,1169.3 L1205.8,1175.7 L1207.5,1170.6 L1209.9,1176.6 L1211.6,1171.1 L1213.8,1178.5 L1216.5,1172.9 L1219.3,1178.8 L1221.7,1174.1 L1224.3,1180.2 L1226.5,1173.9 L1229.0,1182.9 L1231.7,1177.8 L1233.6,1186.2 L1235.9,1182.1 L1238.7,1192.3 L1241.2,1189.4 L1243.8,1200.1 L1245.8,1197.7 L1248.1,1210.3 L1249.8,1208.6 L1251.9,1221.4 L1254.5,1221.5 L1256.7,1229.5 L1259.0,1225.9 L1260.8,1230.8 L1263.2,1227.4 L1265.6,1232.5 L1268.1,1225.0 L1270.4,1229.7 L1272.7,1223.3 L1274.9,1226.0 L1277.3,1220.1 L1279.3,1222.3 L1281.6,1217.5 L1283.6,1219.4 L1286.2,1212.8 L1288.5,1215.0 L1290.4,1210.2 L1292.6,1210.7 L1295.0,1207.5 L1296.8,1208.2 L1298.8,1207.6" fill="none" stroke="#008000" stroke-width="12.0" stroke-linejoin="round" stroke-linecap="round"/>
<text x="785.5" y="249.7" font-size="47">2306cm</text><text x="938.5" y="227.7" font-size="30">-1</text>
<text x="525.5" y="361.8" font-size="47">2368cm</text><text x="679.5" y="339.4" font-size="30">-1</text>
<text x="1014.5" y="398.9" font-size="47.3">2260m</text><text x="1146.5" y="377.4" font-size="30">-1</text>
<text x="896" y="1437.5" font-size="60.4">2437cm</text><text x="1093" y="1409" font-size="36">-1</text>
<line x1="851.1" y1="271.6" x2="846.8" y2="425.4" stroke="#000" stroke-width="6.8" stroke-linecap="round"/><polygon points="845.8,463.4 835.9,423.1 857.9,423.7" fill="#000" stroke="#000" stroke-width="2" stroke-linejoin="round"/>
<line x1="672.1" y1="375.6" x2="784.6" y2="476.5" stroke="#000" stroke-width="7" stroke-linecap="round"/><polygon points="812.1,501.2 775.9,483.1 790.2,467.2" fill="#000" stroke="#000" stroke-width="2" stroke-linejoin="round"/>
<line x1="997.4" y1="415.0" x2="946.4" y2="449.0" stroke="#000" stroke-width="7" stroke-linecap="round"/><polygon points="916.4,468.9 942.2,439.1 953.9,456.6" fill="#000" stroke="#000" stroke-width="2" stroke-linejoin="round"/>
<line x1="877.8" y1="1389.1" x2="821.4" y2="1376.7" stroke="#000" stroke-width="7.6" stroke-linecap="butt"/><polygon points="786.2,1368.9 825.7,1366.3 820.9,1387.8" fill="#000" stroke="#000" stroke-width="2" stroke-linejoin="round"/>
<line x1="828.9" y1="434.35" x2="762.0" y2="1421.8" stroke="#8c00ff" stroke-width="8.5" stroke-linecap="round" stroke-dasharray="25.2 36.5"/>
<text x="740" y="1708.4" font-size="74" textLength="546.5" lengthAdjust="spacingAndGlyphs">Wavenumber(cm</text>
<text x="1289" y="1672" font-size="43.6">-1</text>
<text x="1325" y="1708.4" font-size="74">)</text>
<text transform="translate(74,1052) rotate(-90)" x="0" y="0" font-size="74" textLength="621" lengthAdjust="spacingAndGlyphs">Transmittance(a.u.)</text>
</svg>
</body></html>
